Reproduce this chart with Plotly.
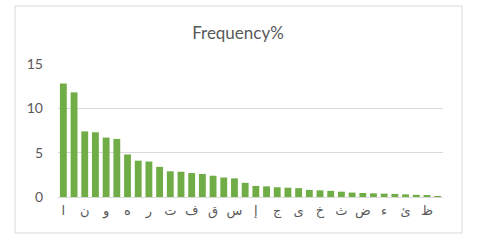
import plotly.graph_objects as go

letters = ["ا", "ل", "ن", "ي", "و", "م", "ه", "ب", "ر", "ع", "ت", "د", "ف", "ة", "ق", "ك",
           "س", "أ", "إ", "ح", "ج", "ش", "ى", "ص", "خ", "ط", "ث", "ز", "ض", "ذ", "ء", "غ",
           "ئ", "آ", "ظ", "ؤ"]
frequency = [12.8, 11.8, 7.4, 7.3, 6.7, 6.55, 4.8, 4.1, 4.0, 3.4, 2.9, 2.85, 2.7, 2.6, 2.4, 2.2,
             2.1, 1.6, 1.25, 1.2, 1.1, 1.05, 1.0, 0.8, 0.75, 0.7, 0.6, 0.5, 0.45, 0.42, 0.38, 0.35,
             0.3, 0.25, 0.2, 0.1]
tick_labels = letters[::2]
y_ticks = [0, 5, 10, 15]

W, H = 480, 247
L, R, T, B = 58, 37, 64, 50
pw, ph = W - L - R, H - T - B

fig = go.Figure(go.Bar(x=letters, y=frequency, marker=dict(color="#70AD47", line=dict(width=0))))

fig.update_layout(
    width=W, height=H,
    margin=dict(l=L, r=R, t=T, b=B),
    paper_bgcolor="white", plot_bgcolor="white",
    bargap=0.36,
    showlegend=False,
    title=dict(text="Frequency%", x=(238 - L) / pw, xref="paper", xanchor="center",
               y=1 - 33 / H, yanchor="middle",
               font=dict(family="Lato, Open Sans, sans-serif", size=17, color="#595959")),
    font=dict(family="Lato, Open Sans, sans-serif", color="#595959"),
)
fig.update_xaxes(
    type="category", tickmode="array", tickvals=tick_labels, ticktext=tick_labels,
    showgrid=False, showline=False, ticks="", tickangle=0, ticklabelstandoff=4,
    tickfont=dict(size=13, color="#595959", family="DejaVu Sans, sans-serif"),
)
fig.update_yaxes(
    range=[0, 15], tickmode="array", tickvals=y_ticks,
    showgrid=True, gridcolor="#D9D9D9", gridwidth=1,
    zeroline=True, zerolinecolor="#D9D9D9", zerolinewidth=1,
    showline=False, ticks="", ticklabelstandoff=14,
    tickfont=dict(size=14, color="#595959"),
)
fig.add_shape(type="rect", xref="paper", yref="paper",
              x0=(15 - L) / pw, x1=(462 - L) / pw,
              y0=(H - B - 233) / ph, y1=(H - B - 6) / ph,
              line=dict(color="#D9D9D9", width=1), fillcolor="rgba(0,0,0,0)", layer="below")

fig.write_html("out.html", config={"displayModeBar": False},
               post_script="document.body.style.margin='0';document.body.style.overflow='hidden';")
